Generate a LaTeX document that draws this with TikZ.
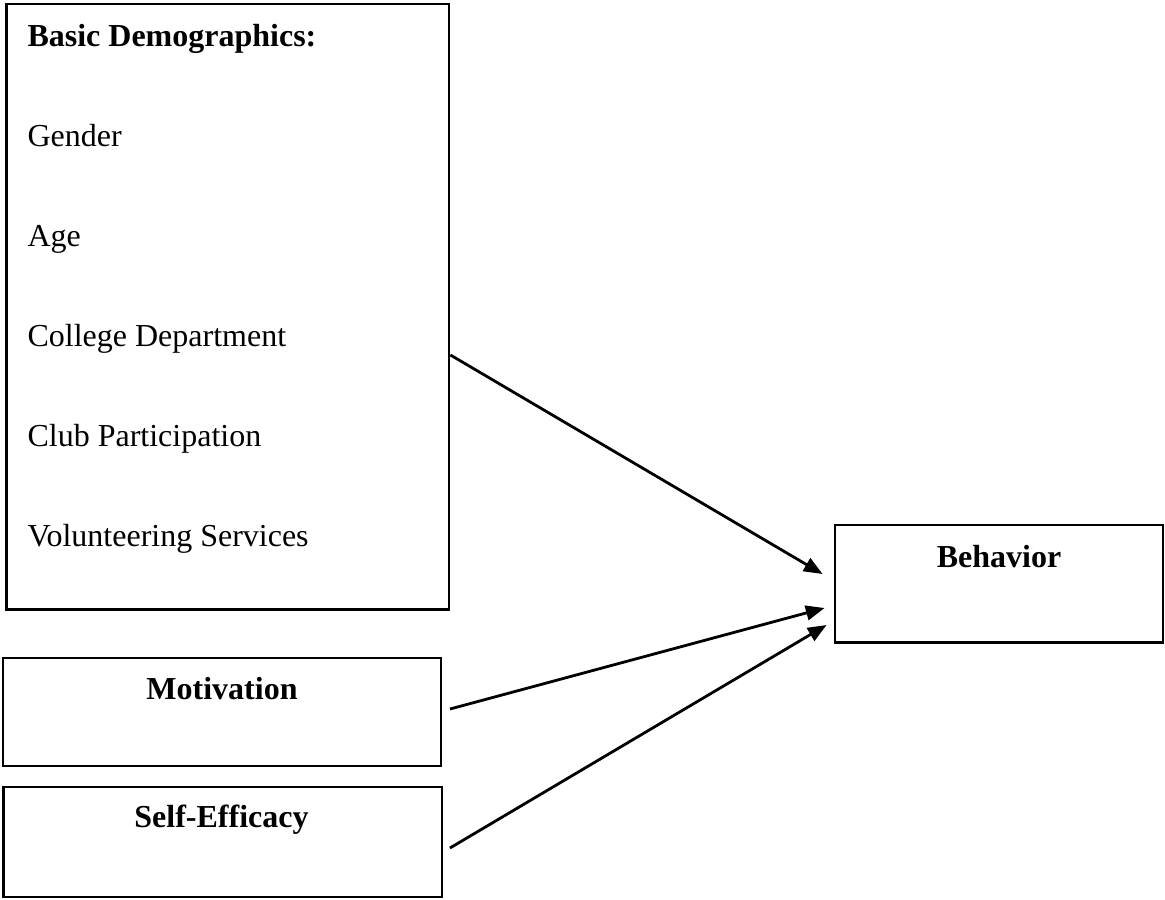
\documentclass[tikz,border=0pt]{standalone}
\usepackage{fontspec}
\setmainfont{Liberation Serif}
\usetikzlibrary{arrows.meta}

\tikzset{
	box/.style={rectangle, draw=black, line width=1.1pt, inner sep=0pt},
	item/.style={anchor=base west, inner sep=0pt, font=\fontsize{12}{14}\selectfont},
	head/.style={anchor=base, inner sep=0pt, font=\fontsize{12}{14}\selectfont\bfseries},
	link/.style={line width=1.05pt, -{Triangle[length=7pt, width=5.5pt]}}
}

\begin{document}
\begin{tikzpicture}[x=0.375pt, y=-0.375pt]
			\useasboundingbox (0,0) rectangle (1165,899);

			% Define boxes with their coordinates
			\node[box, minimum width=166.1pt, minimum height=226.9pt] (demo) at (227.5, 306.5) {};
			\node[box, minimum width=164.25pt, minimum height=40.5pt] (motiv) at (222, 712) {};
			\node[box, minimum width=164.6pt, minimum height=41.25pt] (selfeff) at (222.5, 842) {};
			\node[box, minimum width=123pt, minimum height=43.9pt] (behav) at (999, 583.5) {};

			% Texts inside the boxes
			\node[item, font=\fontsize{12}{14}\selectfont\bfseries] (demotitle) at (27, 46) {Basic Demographics:};
			\node[item] (gender) at (27, 146) {Gender};
			\node[item] (age) at (27, 246) {Age};
			\node[item] (dept) at (27, 346) {College Department};
			\node[item] (club) at (27, 446) {Club Participation};
			\node[item] (volun) at (27, 546) {Volunteering Services};
			\node[head] (motivtext) at (222, 699) {Motivation};
			\node[head] (selftext) at (221.5, 827) {Self-Efficacy};
			\node[head] (behavtext) at (999, 567) {Behavior};

			% Draw arrows into Behavior
			\draw[link] ([shift={(0,48.5)}]demo.east) -- ([shift={(-11,-9.5)}]behav.west);
			\draw[link] ([shift={(7.5,-3)}]motiv.east) -- ([shift={(-9,24.5)}]behav.west);
			\draw[link] ([shift={(6.5,6)}]selfeff.east) -- ([shift={(-7,41.5)}]behav.west);

		\end{tikzpicture}
\end{document}
